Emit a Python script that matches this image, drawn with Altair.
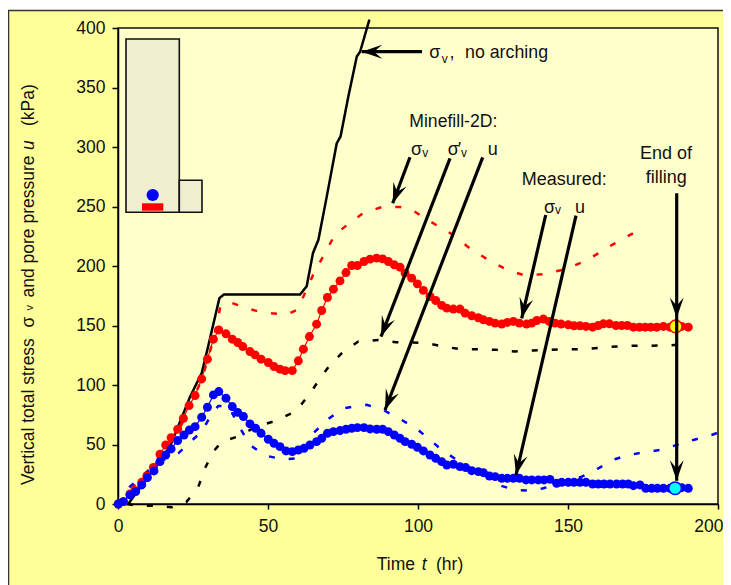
import math
import altair as alt
import pandas as pd

# --- series (time in hr, stress / pressure in kPa) ---
nat_t = [3.4, 17.3, 24, 27.9, 30, 33.8, 35.3, 60.7, 62.9, 65, 66.8, 69.6, 72.9, 74.2, 76.8, 79.6, 80.7, 83.8]
nat_v = [0, 48, 90, 110, 132, 173, 176, 176, 183, 211, 222, 258.5, 303, 309, 342.6, 376, 380, 407]

sim_s_t = [0, 10, 20, 28, 32, 34, 36.8, 42.9, 46.2, 51.2, 56.2, 59.6, 61.8, 65.3, 69.6, 72.3, 77.9, 81.8, 87.9, 94, 98.4, 104, 110.7, 117.9, 123.4, 129.6, 135.7, 141.8, 148.4, 154.9, 160.7, 164.6, 169.8, 175.4]
sim_s_v = [0, 28, 60, 105, 140, 164.5, 170, 164.5, 162.3, 160.3, 159, 163, 174.4, 194, 213.7, 226.3, 237.5, 244.5, 249.5, 249.5, 246.5, 237.5, 227.7, 213.7, 205.3, 196.8, 192, 193.2, 196.8, 203.3, 211.4, 217.6, 224.9, 232.7]

sim_e_t = [3, 6.2, 12.3, 17.9, 22.9, 26.8, 29, 31.6, 34.6, 39.8, 46.2, 52.7, 57.9, 60.7, 64.2, 67.6, 70.7, 74.6, 80.1, 86.8, 92.6, 97.9, 102.9, 108.4, 114, 119.6, 126.2, 132.3, 138.4, 144, 149.6, 155.1, 160.7, 166.2, 171.8, 177.3, 182.9, 189]
sim_e_v = [0, -1.4, -1.4, -2.8, 2, 14.6, 30, 43.5, 52.4, 56.6, 65, 70, 76.3, 82.4, 93.6, 106.5, 116.9, 126.7, 136.5, 137.9, 136, 135.7, 135.2, 132.4, 130.1, 130.1, 129.6, 128.2, 129, 129.6, 130.1, 130.1, 131.3, 132.4, 133, 133, 133.2, 134.3]

sim_u_t = [0, 4, 9, 15.1, 20.1, 24.6, 27.9, 30.7, 33.4, 36.8, 40.1, 44, 49, 54.9, 60.1, 65.1, 69.6, 75.1, 79, 82.9, 88.4, 94.6, 100.1, 104, 108.4, 116, 124, 126.8, 132.3, 137.9, 141.8, 147.3, 154.6, 160.1, 165.7, 169.2, 174.6, 180.7, 186.2, 191.8, 197.9, 200]
sim_u_v = [0, 14.6, 25.8, 37, 42.6, 53.3, 60.8, 73.4, 82.4, 82.4, 66.4, 49.6, 40.7, 37.6, 38.4, 59.4, 70.6, 80.4, 81.9, 83.3, 79, 70.6, 62.2, 53.8, 44.6, 32, 21.6, 16, 11.8, 11.2, 13.2, 17.4, 23, 30, 37.6, 40.6, 43.2, 45.4, 49.6, 53.8, 58, 60]

red_t = [0.1, 1.8, 4, 5.7, 7.9, 9.6, 11.8, 14, 15.9, 17.7, 19.9, 21.8, 23.7, 25.7, 27.9, 29.8, 31.8, 33.6, 36, 38.1, 39.9, 41.6, 44, 45.7, 47.7, 50.1, 52, 54, 55.7, 58.1, 60.1, 61.8, 63.8, 66.2, 67.9, 69.8, 71.8, 74, 76, 77.9, 79.8, 82, 84, 86.2, 88.2, 90.1, 92.1, 94, 95.7, 97.9, 99.8, 101.8, 104, 105.9, 107.9, 109.6, 111.8, 114, 115.7, 117.9, 120.1, 121.8, 123.8, 125.7, 127.9, 129.8, 131.8, 133.8, 136.2, 137.9, 139.6, 141.8, 143.7, 145.7, 147.7, 150.1, 152, 154, 156, 158.2, 160.1, 161.8, 163.8, 166, 167.9, 169.8, 171.8, 173.8, 175.7, 177.6, 179.6, 181.8, 184, 187.9, 190.1]
red_v = [0, 2, 8.4, 11.2, 18.2, 23.5, 30.8, 41.8, 49.6, 55.8, 62.8, 72, 82.7, 91.1, 105.1, 121.7, 138.5, 146.3, 143, 138.5, 135.7, 132.3, 128.1, 125.3, 121.7, 118.9, 115.5, 113.3, 112.1, 112.1, 120.3, 130.1, 140.7, 151.1, 162.6, 173.5, 180.5, 187.5, 194.5, 200.4, 200.4, 203.8, 205.8, 206.6, 206, 203.8, 201, 199, 194, 189.8, 185, 179.5, 174.4, 171, 166.9, 164.6, 163.8, 163.8, 160.4, 158.2, 156.5, 154.8, 153.4, 152, 151.2, 152.6, 153.4, 152, 151.2, 152, 154.2, 155.4, 153.4, 152, 151.2, 150.6, 149.8, 149.8, 149.2, 148.6, 150, 151.4, 151.4, 150, 150, 150, 148.6, 148.6, 148.6, 148.6, 148.6, 149.2, 148.6, 149.2, 148.6]

blue_t = [0.1, 1.8, 4, 5.9, 7.9, 9.8, 12, 14, 15.9, 17.7, 19.9, 22, 23.8, 25.7, 27.9, 29.8, 31.8, 33.6, 36, 38.1, 39.9, 41.8, 44, 45.9, 47.7, 50.1, 52, 54, 56, 58.1, 60.1, 62, 64, 66.2, 67.9, 69.8, 71.8, 74, 76, 77.9, 79.8, 82, 84, 86.2, 88.2, 90.1, 92.1, 94, 95.7, 97.9, 99.8, 101.8, 104, 105.9, 107.9, 109.6, 111.8, 114, 115.9, 117.9, 120.1, 121.8, 123.8, 125.7, 127.9, 129.8, 131.8, 133.8, 136, 137.9, 140.1, 142, 144, 146.2, 147.9, 150.1, 152, 154, 156, 158.2, 160.1, 162, 164, 166.2, 168.2, 170.1, 171.8, 174, 175.9, 177.9, 179.8, 181.8, 184, 187.9, 190.1]
blue_v = [0, 2, 7.6, 10.4, 16, 22.2, 27.8, 35.6, 41.2, 46.3, 53.3, 58, 62.2, 65, 72.9, 81.3, 91.7, 94.5, 88.9, 81.9, 77, 73.5, 67.3, 63.6, 59.4, 54.4, 51, 48.2, 44.6, 44, 45.4, 46.8, 49.6, 52.4, 55.2, 59.4, 60.8, 61.7, 62.8, 63.6, 64.2, 64.2, 63.1, 62.8, 62.8, 60.8, 58, 55.2, 52.4, 50.2, 47.7, 44.6, 41.2, 38.4, 35.6, 32.8, 33.4, 31.4, 30.6, 28, 27.2, 26.3, 23.5, 23, 21.6, 21.6, 21.6, 21.6, 20.2, 20.2, 20.2, 20.2, 20.7, 17.4, 18.2, 18.2, 18.2, 18.2, 18.2, 16.8, 16.8, 16.8, 16.8, 16.8, 16.8, 16.8, 15.4, 16, 13.2, 13.2, 13.2, 13.2, 13.2, 13.7, 13.2]

end_t = [185.9, 185.7]
end_v = [149.2, 13.2]
end_fill = ["#FFFF00", "#00FFFF"]
end_edge = ["#FF0000", "#0000FF"]

X_TICKS = [0, 50, 100, 150, 200]
Y_TICKS = [0, 50, 100, 150, 200, 250, 300, 350, 400]

# --- annotation layout: page pixels converted to data units ---
def T(px):
    return (px - 118) / 3.0


def V(py):
    return (504 - py) / 1.19


arrows = [  # start (px), tip (px)
    (422, 51.7, 361.7, 51.7),
    (410, 157.3, 392.7, 203.3),
    (450, 158.3, 381, 336.7),
    (482.7, 157.3, 385, 410),
    (545.7, 215, 521.7, 318.3),
    (576, 215.7, 516, 475),
    (676.7, 193.3, 676.7, 480.7),
]
extra_heads = [(676.7, 193.3, 676.7, 318)]

texts = [  # px, py (baseline), text, size, italic
    (429.3, 58, "σ", 18, False), (441.7, 62.7, "v", 12, False), (449.5, 58, ",", 18, False),
    (465, 58, "no arching", 17.8, False),
    (409.3, 127, "Minefill-2D:", 17.6, False),
    (411, 155, "σ", 18, False), (422.3, 156.7, "v", 12, False),
    (447.7, 155, "σ", 18, False), (457.7, 155, "′", 18, False), (461, 156.7, "v", 12, False),
    (487.7, 155, "u", 18, False),
    (521.7, 185, "Measured:", 18, False),
    (544, 212.7, "σ", 18, False), (555, 214.3, "v", 12, False),
    (575, 212.7, "u", 18, False),
    (640, 159.3, "End of", 18, False), (645.7, 183.3, "filling", 18, False),
    (376.7, 570, "Time", 17.5, False), (421.7, 570, "t", 17.5, True), (436, 570, "(hr)", 17.5, False),
]
ytitle = [  # baseline x, start y, text, size, italic
    (34, 485, "Vertical total stress", 17.5, False),
    (34, 327.5, "σ", 17.5, False),
    (33, 310.5, "v", 11, False),
    (34, 297.5, "and pore pressure", 17.5, False),
    (34, 150, "u", 17.5, True),
    (34, 126, "(kPa)", 17.5, False),
]

x_s = alt.Scale(domain=[0, 200], nice=False, zero=False)
y_s = alt.Scale(domain=[0, 400], nice=False, zero=False)
X = lambda f: alt.X(f, type="quantitative", scale=x_s,
                    axis=alt.Axis(values=X_TICKS, title=None, grid=False, tickSize=5, tickWidth=1.5,
                                  domainWidth=1.5, domainColor="#000", tickColor="#000", labelColor="#111",
                                  labelFontSize=17.5, labelFont="Liberation Sans", labelPadding=8,
                                  labelOverlap=False, labelFlush=False, format="d",
                                  labelAlign=alt.expr("datum.value == 200 ? 'right' : 'center'"),
                                  labelOffset=alt.expr("datum.value == 200 ? 5 : 0")))
Y = lambda f: alt.Y(f, type="quantitative", scale=y_s,
                    axis=alt.Axis(values=Y_TICKS, title=None, grid=False, tickSize=6, tickWidth=1.5,
                                  domainWidth=1.5, domainColor="#000", tickColor="#000", labelColor="#111",
                                  labelFontSize=17.5, labelFont="Liberation Sans", labelPadding=7,
                                  labelOverlap=False, format="d"))


def frame(t, v):
    return pd.DataFrame({"t": t, "v": v, "i": range(len(t))})


def line(t, v, **kw):
    return alt.Chart(frame(t, v)).mark_line(**kw).encode(x=X("t"), y=Y("v"), order="i:Q")


def dots(t, v, color):
    return alt.Chart(frame(t, v)).mark_circle(size=80, color=color, opacity=1).encode(x=X("t"), y=Y("v"))


def text_layer(rows, italic, **kw):
    sub = pd.DataFrame([{"t": T(a), "v": V(b), "s": s, "z": z} for a, b, s, z, it in rows if it == italic])
    return alt.Chart(sub).mark_text(align="left", baseline="alphabetic", font="Liberation Sans", color="#111111",
                                    fontStyle="italic" if italic else "normal", **kw).encode(
        x=X("t"), y=Y("v"), text="s:N", size=alt.Size("z:Q", scale=None))


one = pd.DataFrame({"a": [0]})
strip = alt.Chart(one).mark_rect(color="white").encode(
    x=alt.value(-110), x2=alt.value(620), y=alt.value(-20), y2=alt.value(-18))
outer = alt.Chart(one).mark_rect(fillOpacity=0, stroke="#333333", strokeWidth=1.5).encode(
    x=alt.value(-109.5), x2=alt.value(700), y=alt.value(-17.5), y2=alt.value(700))

inset = pd.DataFrame({
    "a": [T(126), T(179.3)], "b": [T(179.3), T(202)],
    "c": [V(39), V(180.3)], "d": [V(212.3), V(212.3)],
})
inset_r = alt.Chart(inset).mark_rect(fill="#EFEFCF", stroke="#111111", strokeWidth=1.6).encode(
    x=X("a"), x2="b", y=Y("c"), y2="d")
gauge_p = pd.DataFrame({"a": [T(142)], "b": [T(163.3)], "c": [V(203.3)], "d": [V(210.7)]})
gauge_r = alt.Chart(gauge_p).mark_rect(fill="#FF0000").encode(x=X("a"), x2="b", y=Y("c"), y2="d")
gauge_u = alt.Chart(pd.DataFrame({"t": [T(152.7)], "v": [V(195)]})).mark_circle(size=150, color="#0000FF", opacity=1).encode(x=X("t"), y=Y("v"))

DASH = [6, 14]
layers = [
    strip, outer, inset_r, gauge_r, gauge_u,
    line(nat_t, nat_v, color="#000000", strokeWidth=2.5),
    line(sim_s_t, sim_s_v, color="#FF0000", strokeWidth=2.5, strokeDash=DASH),
    line(sim_e_t, sim_e_v, color="#000000", strokeWidth=2.5, strokeDash=DASH),
    line(sim_u_t, sim_u_v, color="#0000FF", strokeWidth=2.5, strokeDash=DASH),
    line(red_t, red_v, color="#FF0000", strokeWidth=1.2), dots(red_t, red_v, "#FF0000"),
    line(blue_t, blue_v, color="#0000FF", strokeWidth=1.2), dots(blue_t, blue_v, "#0000FF"),
]

ends = pd.DataFrame({"t": end_t, "v": end_v, "f": end_fill, "e": end_edge})
layers.append(alt.Chart(ends).mark_circle(size=160, opacity=1, strokeWidth=1.5).encode(
    x=X("t"), y=Y("v"), fill=alt.Fill("f:N", scale=None), stroke=alt.Stroke("e:N", scale=None)))

rows = []
for i, (a, b, c, d) in enumerate(arrows):
    rows += [{"k": i, "n": 0, "t": T(a), "v": V(b)}, {"k": i, "n": 1, "t": T(c), "v": V(d)}]
layers.append(alt.Chart(pd.DataFrame(rows)).mark_line(color="#000000", strokeWidth=3.2, strokeCap="butt").encode(
    x=X("t"), y=Y("v"), detail="k:N", order="n:Q"))

heads = [{"t": T(c), "v": V(d), "ang": math.degrees(math.atan2(c - a, b - d)) % 360}
         for a, b, c, d in arrows + extra_heads]
HEAD = "M0,0 L0.68,2 L0,1.2 L-0.68,2 Z"
layers.append(alt.Chart(pd.DataFrame(heads)).mark_point(shape=HEAD, filled=True, color="#000000", opacity=1, size=420).encode(
    x=X("t"), y=Y("v"), angle=alt.Angle("ang:Q", scale=None)))

layers.append(text_layer(texts, False))
layers.append(text_layer(texts, True))
layers.append(text_layer(ytitle, False, angle=270))
layers.append(text_layer(ytitle, True, angle=270))

chart = alt.layer(*layers).properties(
    width=600, height=476,
    background="#FFFF99",
    autosize=alt.AutoSizeParams(type="none"),
    padding={"left": 110, "top": 20, "right": 5, "bottom": 81},
).configure_view(fill="#FFFFCC", stroke="#111111", strokeWidth=1.5)

chart.save("out.html", embed_options={"renderer": "svg", "actions": False})
